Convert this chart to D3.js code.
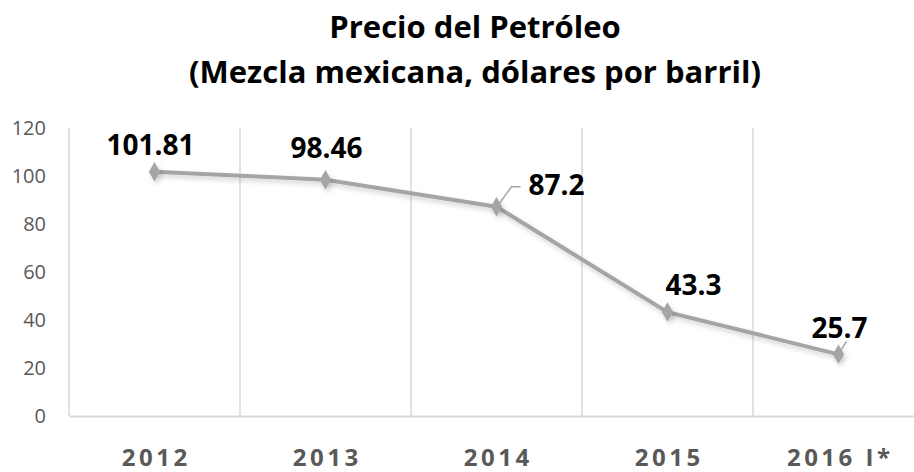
<!DOCTYPE html>
<html><head><meta charset="utf-8">
<script src="https://cdn.jsdelivr.net/npm/d3@7"></script>
<style>body{margin:0;background:#fff;} svg{display:block;}</style>
</head><body>
<svg id="c" width="914" height="472"></svg>
<script>
const categories = ["2012", "2013", "2014", "2015", "2016 I*"];
const values = [101.81, 98.46, 87.2, 43.3, 25.7];
const labels = ["101.81", "98.46", "87.2", "43.3", "25.7"];
const yTicks = [0, 20, 40, 60, 80, 100, 120];
const titleLines = ["Precio del Petróleo", "(Mezcla mexicana, dólares por barril)"];

(function(){
const svg = d3.select("#c");
const pLeft = 69, pRight = 924, pTop = 128, pBottom = 416;
const x = d3.scaleBand().domain(categories).range([pLeft, pRight]);
const y = d3.scaleLinear().domain([0, 120]).range([pBottom, pTop]);

const defs = svg.append("defs");
const f = defs.append("filter").attr("id","sh").attr("x","-50%").attr("y","-50%").attr("width","200%").attr("height","200%");
f.append("feDropShadow").attr("dx",2).attr("dy",3).attr("stdDeviation",2.5).attr("flood-color","#000").attr("flood-opacity",0.18);

// title
svg.append("g").selectAll("text").data(titleLines).join("text")
  .attr("x", 475).attr("y", (d,i)=> 38 + i*45)
  .attr("text-anchor","middle")
  .attr("font-family","'Open Sans', sans-serif").attr("font-weight","bold")
  .attr("font-size", 31).attr("fill","#000").text(d=>d);

// vertical gridlines at band boundaries
const bounds = categories.slice(1).map(c => x(c));
svg.append("g").selectAll("line").data(bounds).join("line")
  .attr("x1", d=>d).attr("x2", d=>d).attr("y1", pTop).attr("y2", pBottom)
  .attr("stroke","#d9d9d9").attr("stroke-width",1.5);
svg.append("line").attr("x1",pLeft).attr("x2",pLeft).attr("y1",pTop).attr("y2",pBottom)
  .attr("stroke","#d9d9d9").attr("stroke-width",1.5);

// y axis labels
const yAxis = d3.axisLeft(y).tickValues(yTicks).tickSize(0).tickPadding(0).tickFormat(d3.format("d"));
const ya = svg.append("g").attr("transform",`translate(${pLeft-23},0)`).call(yAxis);
ya.select(".domain").remove();
ya.selectAll("text").attr("font-family","'Open Sans', sans-serif").attr("font-size",20).attr("fill","#595959");

// x axis
const xAxis = d3.axisBottom(x).tickSize(0).tickPadding(0);
const xa = svg.append("g").attr("transform",`translate(0,${pBottom})`).call(xAxis);
xa.select(".domain").attr("stroke","#d9d9d9").attr("stroke-width",2);
xa.selectAll("text").attr("font-family","'Open Sans', sans-serif").attr("font-weight","bold")
  .attr("font-size",24).attr("fill","#595959").attr("letter-spacing","3.5px").attr("dy",null).attr("y",50)
  .attr("dx","1.75px");

// line
const cx = d => x(d) + x.bandwidth()/2;
const pts = categories.map((c,i)=>({c, v: values[i], l: labels[i]}));
const line = d3.line().x(d=>cx(d.c)).y(d=>y(d.v));
svg.append("path").datum(pts).attr("d", line).attr("fill","none")
  .attr("stroke","#a5a5a5").attr("stroke-width",4).attr("filter","url(#sh)");

// markers
const sym = d3.symbol().type(d3.symbolDiamond).size(110);
svg.append("g").selectAll("path").data(pts).join("path")
  .attr("d", sym).attr("transform", d=>`translate(${cx(d.c)},${y(d.v)})`)
  .attr("fill","#a5a5a5").attr("filter","url(#sh)");

// leader lines
const leaders = [
  {i:2, pts:[[2,-2],[15,-20],[24,-20]]},
  {i:4, pts:[[0,0],[8,-13]]}
];
leaders.forEach(L=>{
  const p = pts[L.i];
  svg.append("path").attr("d", d3.line()(L.pts.map(q=>[cx(p.c)+q[0], y(p.v)+q[1]])))
    .attr("fill","none").attr("stroke","#a5a5a5").attr("stroke-width",1.5);
});

// data labels
const offs = [[-4,-17],[1,-22],[60,-12],[26,-17],[1,-16]];
svg.append("g").selectAll("text").data(pts).join("text")
  .attr("x",(d,i)=>cx(d.c)+offs[i][0]).attr("y",(d,i)=>y(d.v)+offs[i][1])
  .attr("text-anchor","middle")
  .attr("font-family","'Open Sans', sans-serif").attr("font-weight","bold")
  .attr("font-size",28).attr("fill","#000").text(d=>d.l);
})();
</script>
</body></html>
